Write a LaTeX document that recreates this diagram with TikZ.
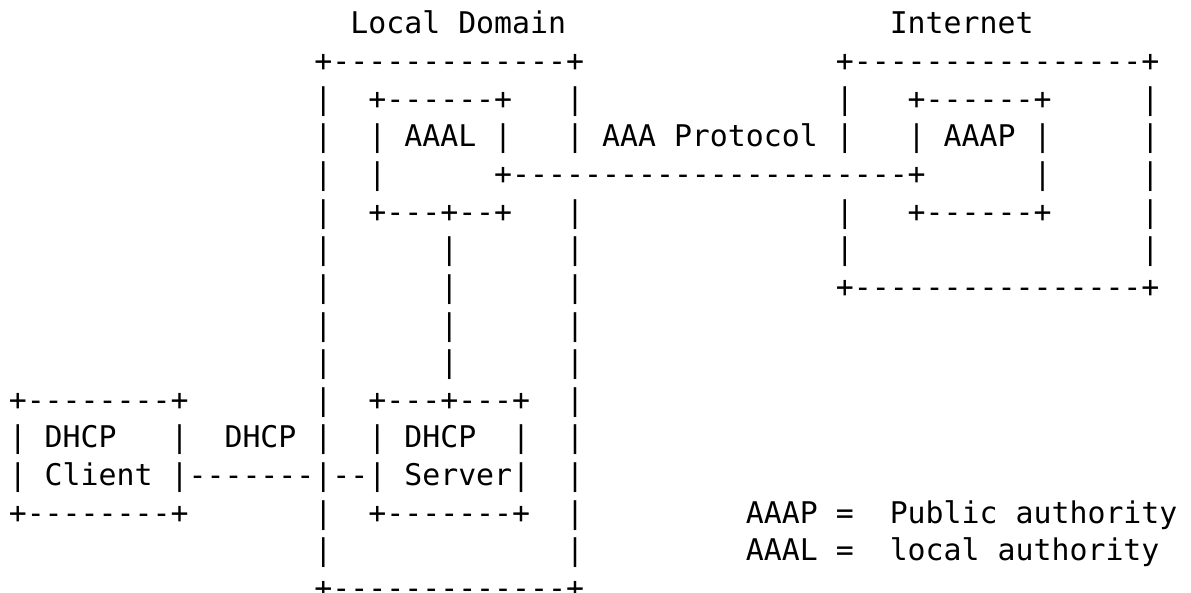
\documentclass[tikz,border=0pt]{standalone}
\usepackage{fontspec}
\setmonofont{DejaVu Sans Mono}
\begin{document}
\begin{tikzpicture}[x=13.485pt, y=-28.2375pt,
    ascii/.style={font=\ttfamily\fontsize{22.4}{27}\selectfont, inner sep=0pt, anchor=base west}]
        \useasboundingbox (-0.473,-0.899) rectangle (65.77,14.851);

        \node[ascii] (ldlabel) at (19,0) {Local Domain};
        \node[ascii] (inetlabel) at (49,0) {Internet};

        \node[ascii] (ldtop) at (17,1) {+-------------+};
        \node[ascii] (inettop) at (46,1) {+----------------+};

        \foreach \r in {2,...,10,13,14}
          \node[ascii] (ldwest\r) at (17,\r) {|};
        \foreach \r in {2,5,6,...,14}
          \node[ascii] (ldeast\r) at (31,\r) {|};
        \foreach \r in {2,5,6}
          \node[ascii] (inetwest\r) at (46,\r) {|};
        \foreach \r in {2,...,6}
          \node[ascii] (ineteast\r) at (63,\r) {|};
        \foreach \r in {6,...,9}
          \node[ascii] (aaallink\r) at (24,\r) {|};

        \node[ascii] (aaaltop) at (20,2) {+------+};
        \node[ascii] (aaal) at (20,3) {| AAAL |};
        \node[ascii] (aaalwest) at (20,4) {|};
        \node[ascii] (aaalbot) at (20,5) {+---+--+};

        \node[ascii] (aaaptop) at (50,2) {+------+};
        \node[ascii] (aaap) at (50,3) {| AAAP |};
        \node[ascii] (aaapeast) at (57,4) {|};
        \node[ascii] (aaapbot) at (50,5) {+------+};

        \node[ascii] (protolabel) at (31,3) {| AAA Protocol |};
        \node[ascii] (protolink) at (27,4) {+----------------------+};

        \node[ascii] (inetbot) at (46,7) {+----------------+};

        \node[ascii] (clienttop) at (0,10) {+--------+};
        \node[ascii] (servertop) at (20,10) {+---+---+};
        \node[ascii] (client) at (0,11) {| DHCP};
        \node[ascii] (clienteast) at (9,11) {|};
        \node[ascii] (dhcplabel) at (12,11) {DHCP |};
        \node[ascii] (server) at (20,11) {| DHCP};
        \node[ascii] (servereast) at (28,11) {|};
        \node[ascii] (client2) at (0,12) {| Client |};
        \node[ascii] (dhcplink) at (10,12) {-------|--};
        \node[ascii] (server2) at (20,12) {| Server|};
        \node[ascii] (clientbot) at (0,13) {+--------+};
        \node[ascii] (serverbot) at (20,13) {+-------+};

        \node[ascii] (aaapkey) at (41,13) {AAAP =};
        \node[ascii] (aaapdef) at (49,13) {Public authority};
        \node[ascii] (aaalkey) at (41,14) {AAAL =};
        \node[ascii] (aaaldef) at (49,14) {local authority};

        \node[ascii] (ldbot) at (17,15) {+-------------+};
      \end{tikzpicture}
\end{document}
